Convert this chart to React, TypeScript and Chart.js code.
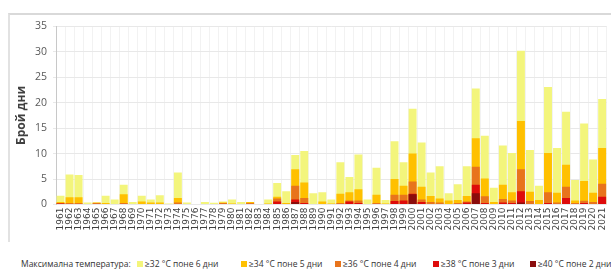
import React, { useEffect, useRef } from "react";
import { Chart, registerables } from "chart.js";

Chart.register(...registerables);

const years = [
  "1961", "1962", "1963", "1964", "1965", "1966", "1967", "1968", "1969", "1970",
  "1971", "1972", "1973", "1974", "1975", "1976", "1977", "1978", "1979", "1980",
  "1981", "1982", "1983", "1984", "1985", "1986", "1987", "1988", "1989", "1990",
  "1991", "1992", "1993", "1994", "1995", "1996", "1997", "1998", "1999", "2000",
  "2001", "2002", "2003", "2004", "2005", "2006", "2007", "2008", "2009", "2010",
  "2011", "2012", "2013", "2014", "2015", "2016", "2017", "2018", "2019", "2020",
  "2021",
];

// days with Tmax >= 32 °C for at least 6 days
const d32 = [
  1.7, 5.9, 5.8, 0.4, 0.4, 1.7, 1.0, 3.9, 0.5, 1.7,
  1.0, 1.8, 0.2, 6.3, 0.4, 0.1, 0.5, 0.35, 0.6, 1.0,
  0.5, 0.5, 0, 1.0, 4.2, 2.6, 9.7, 10.5, 2.2, 2.4,
  1.0, 8.3, 5.4, 9.8, 1.0, 7.2, 0.9, 12.4, 8.3, 18.8,
  12.2, 6.3, 7.5, 2.2, 4.0, 7.5, 22.8, 13.5, 3.3, 11.6,
  10.1, 30.2, 10.7, 3.7, 23.1, 11.1, 18.2, 4.8, 15.9, 8.85,
  20.7,
];
// >= 34 °C for at least 5 days
const d34 = [
  0.5, 1.4, 1.4, 0, 0.4, 0.3, 0, 2.0, 0, 0.6,
  0.4, 0.4, 0, 1.3, 0, 0, 0, 0, 0.4, 0.2,
  0, 0.5, 0, 0.2, 1.5, 0.3, 6.9, 4.3, 0, 0.6,
  0.2, 2.1, 2.4, 3.0, 0, 1.9, 0.2, 5.0, 3.7, 10.0,
  3.5, 1.65, 1.2, 0.8, 0.9, 1.65, 13.0, 5.1, 0.5, 3.9,
  2.4, 16.4, 2.5, 0.9, 10.1, 2.3, 7.8, 0.8, 4.6, 2.3,
  11.1,
];
// >= 36 °C for at least 4 days
const d36 = [
  0.3, 0.3, 0.3, 0, 0.3, 0, 0, 0.3, 0, 0,
  0, 0, 0, 0.4, 0, 0, 0, 0, 0.3, 0,
  0, 0.3, 0, 0, 1.2, 0, 3.7, 1.3, 0, 0,
  0, 0.3, 0.8, 0.8, 0, 0.3, 0, 1.9, 1.9, 4.5,
  1.0, 0.5, 0.4, 0, 0.3, 0.6, 7.4, 1.6, 0, 1.1,
  0.8, 6.9, 0.7, 0, 2.4, 0.4, 3.5, 0.3, 0.75, 0.5,
  4.1,
];
// >= 38 °C for at least 3 days
const d38 = [
  0.2, 0, 0, 0, 0, 0, 0, 0, 0, 0,
  0, 0, 0, 0, 0, 0, 0, 0, 0, 0,
  0, 0, 0, 0, 0.6, 0, 1.0, 0.3, 0, 0,
  0, 0, 0.6, 0.3, 0, 0, 0, 0.7, 0.8, 2.1,
  0.5, 0, 0, 0, 0, 0.4, 3.9, 0.3, 0, 0.4,
  0.3, 2.6, 0, 0, 0.3, 0, 1.3, 0, 0.3, 0,
  1.5,
];
// >= 40 °C for at least 2 days
const d40 = [
  0, 0, 0, 0, 0, 0, 0, 0, 0, 0,
  0, 0, 0, 0, 0, 0, 0, 0, 0, 0,
  0, 0, 0, 0, 0, 0, 0.5, 0, 0, 0,
  0, 0, 0, 0, 0, 0, 0, 0, 0, 2.0,
  0, 0, 0, 0, 0, 0, 2.2, 0, 0, 0,
  0, 0.4, 0, 0, 0, 0, 0, 0, 0, 0,
  0,
];

const seriesLabels = [
  "≥32 °C поне 6 дни",
  "≥34 °C поне 5 дни",
  "≥36 °C поне 4 дни",
  "≥38 °C поне 3 дни",
  "≥40 °C поне 2 дни",
];
const seriesColors = ["#f3f57c", "#ffc000", "#e8741c", "#de0b0b", "#8a0c0c"];
const yTicks = [0, 5, 10, 15, 20, 25, 30, 35];
const legendPrefix = "Максимална температура:";
const yTitle = "Брой дни";

const legendX = [137, 241, 335, 433, 530];

export default function App() {
  const ref = useRef<HTMLCanvasElement | null>(null);

  useEffect(() => {
    if (!ref.current) return;
    const series = [d32, d34, d36, d38, d40];
    const chart = new Chart(ref.current, {
      type: "bar",
      data: {
        labels: years,
        datasets: series.map((d, i) => ({
          label: seriesLabels[i],
          data: d,
          backgroundColor: seriesColors[i],
          borderWidth: 0,
          order: 4 - i,
          grouped: false,
          barPercentage: 0.88,
          categoryPercentage: 1,
        })),
      },
      options: {
        animation: false,
        responsive: false,
        maintainAspectRatio: false,
        layout: { padding: { left: 0, right: 4.5, top: 10, bottom: 0 } },
        plugins: {
          legend: { display: false },
          tooltip: { enabled: false },
        },
        scales: {
          x: {
            grid: { color: "#f2f2f2", drawTicks: false, offset: true },
            border: { display: false },
            ticks: {
              autoSkip: false,
              maxRotation: 90,
              minRotation: 90,
              padding: 3,
              color: "#404040",
              font: { family: "DejaVu Sans", size: 9 },
            },
            afterFit: (s: any) => {
              s.height = 35.5;
            },
          },
          y: {
            min: 0,
            max: 35,
            afterBuildTicks: (s: any) => {
              s.ticks = yTicks.map((v) => ({ value: v }));
            },
            grid: { color: "#e8e8e8", tickLength: 3 },
            border: { color: "#c8c8c8" },
            ticks: {
              padding: 6,
              color: "#595959",
              font: { family: "Open Sans", size: 10.5 },
            },
            title: {
              display: true,
              text: yTitle,
              color: "#404040",
              font: { family: "Open Sans", size: 12, weight: "bold" },
              padding: { top: 14, bottom: 0 },
            },
            afterFit: (s: any) => {
              s.width = 56;
            },
          },
        },
      },
    });
    return () => chart.destroy();
  }, []);

  return (
    <div
      style={{
        position: "fixed",
        left: 0,
        top: 0,
        width: 611,
        height: 273,
        overflow: "hidden",
        background: "#fff",
      }}
    >
      <div
        style={{
          position: "absolute",
          left: 8,
          top: 13,
          width: 700,
          height: 227,
          borderTop: "2px solid #d9d9d9",
          borderLeft: "2px solid #e2e2e2",
        }}
      />
      <canvas
        ref={ref}
        width={616}
        height={226}
        style={{ position: "absolute", left: 0, top: 14, width: 616, height: 226 }}
      />
      <div
        style={{
          position: "absolute",
          left: 21,
          top: 257,
          height: 13,
          lineHeight: "13px",
          fontFamily: "Open Sans",
          fontSize: 8.5,
          color: "#333",
          whiteSpace: "nowrap",
        }}
      >
        {legendPrefix}
      </div>
      {seriesLabels.map((lab, i) => (
        <div
          key={lab}
          style={{
            position: "absolute",
            left: legendX[i],
            top: 257,
            height: 13,
            display: "flex",
            alignItems: "center",
            fontFamily: "Open Sans",
            fontSize: 8.5,
            color: "#333",
            whiteSpace: "nowrap",
          }}
        >
          <span
            style={{
              display: "inline-block",
              width: 6,
              height: 6,
              background: seriesColors[i],
              marginRight: 2,
            }}
          />
          <span>{lab}</span>
        </div>
      ))}
    </div>
  );
}
